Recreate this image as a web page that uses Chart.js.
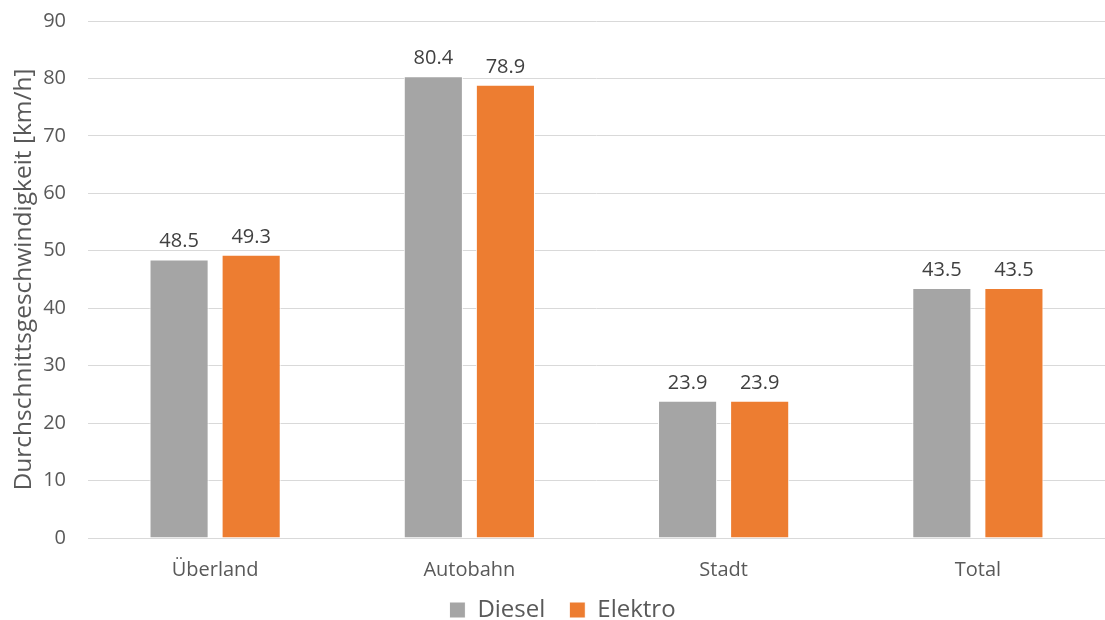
<!DOCTYPE html>
<html>
<head>
<meta charset="utf-8">
<script src="https://cdn.jsdelivr.net/npm/chart.js@4"></script>
<style>
  html, body { margin: 0; padding: 0; background: #fff; }
  #wrap { width: 1105px; height: 620px; }
</style>
</head>
<body>
<div id="wrap"><canvas id="c" width="1105" height="620"></canvas></div>
<script>
const categories = ['Überland', 'Autobahn', 'Stadt', 'Total'];
const dieselValues = [48.5, 80.4, 23.9, 43.5];
const elektroValues = [49.3, 78.9, 23.9, 43.5];
const seriesNames = ['Diesel', 'Elektro'];
const axisTitle = 'Durchschnittsgeschwindigkeit [km/h]';

const FONT = "'Open Sans', 'Noto Sans', sans-serif";
const TEXT = '#595959';

// Writes each bar's value just above its top edge
const valueLabels = {
  id: 'valueLabels',
  afterDatasetsDraw(chart) {
    const ctx = chart.ctx;
    ctx.save();
    ctx.font = '20px ' + FONT;
    ctx.fillStyle = '#404040';
    ctx.textAlign = 'center';
    ctx.textBaseline = 'alphabetic';
    chart.data.datasets.forEach((ds, i) => {
      chart.getDatasetMeta(i).data.forEach((bar, j) => {
        ctx.fillText(ds.data[j].toFixed(1), bar.x, bar.y - 12);
      });
    });
    ctx.restore();
  }
};

// Keeps the legend strip compact so it sits close under the category labels,
// and centres it a little to the right, under the plot area
const compactLegend = {
  id: 'compactLegend',
  beforeLayout(chart) {
    const legend = chart.legend;
    if (legend && !legend._compact) {
      const baseFit = legend.fit;
      legend.fit = function () { baseFit.call(this); this.height = 46; };
      legend._compact = true;
    }
  },
  afterLayout(chart) {
    const legend = chart.legend;
    if (legend) {
      legend.left += 10;
      legend.right += 10;
    }
  }
};

new Chart(document.getElementById('c'), {
  type: 'bar',
  data: {
    labels: categories,
    datasets: [
      { label: seriesNames[0], data: dieselValues, backgroundColor: '#a5a5a5', borderColor: '#ffffff', borderWidth: 1 },
      { label: seriesNames[1], data: elektroValues, backgroundColor: '#ed7d31', borderColor: '#ffffff', borderWidth: 1 }
    ]
  },
  options: {
    responsive: false,
    animation: false,
    devicePixelRatio: 1,
    layout: { padding: { top: 21, right: 0, left: 0, bottom: 0 } },
    datasets: { bar: { categoryPercentage: 0.567, barPercentage: 0.82 } },
    plugins: {
      legend: {
        position: 'bottom',
        labels: {
          font: { family: FONT, size: 24 },
          color: TEXT,
          boxWidth: 16,
          boxHeight: 16,
          padding: 24
        }
      },
      tooltip: { enabled: false }
    },
    scales: {
      x: {
        grid: { display: false, drawTicks: false },
        border: { color: '#d9d9d9', width: 1 },
        ticks: { font: { family: FONT, size: 20 }, color: TEXT, padding: 20 },
        afterFit(scale) {
          scale.height = 36;
          scale.paddingLeft = 0;
          scale.paddingRight = 0;
          // category labels may reach below the compact axis strip
          scale._computeLabelArea = function () {
            return { top: this.top, left: 0, bottom: this.chart.height, right: this.chart.width };
          };
        }
      },
      y: {
        min: 0, max: 90,
        ticks: { stepSize: 10, font: { family: FONT, size: 20 }, color: TEXT, padding: 22 },
        grid: { color: '#d9d9d9', drawTicks: false },
        border: { display: false },
        title: { display: true, text: axisTitle, font: { family: FONT, size: 24.5 }, color: TEXT, padding: { top: 9, bottom: 0 } },
        afterFit(scale) { scale.width = 88; scale.paddingTop = 0; scale.paddingBottom = 0; }
      }
    }
  },
  plugins: [valueLabels, compactLegend]
});
</script>
</body>
</html>
